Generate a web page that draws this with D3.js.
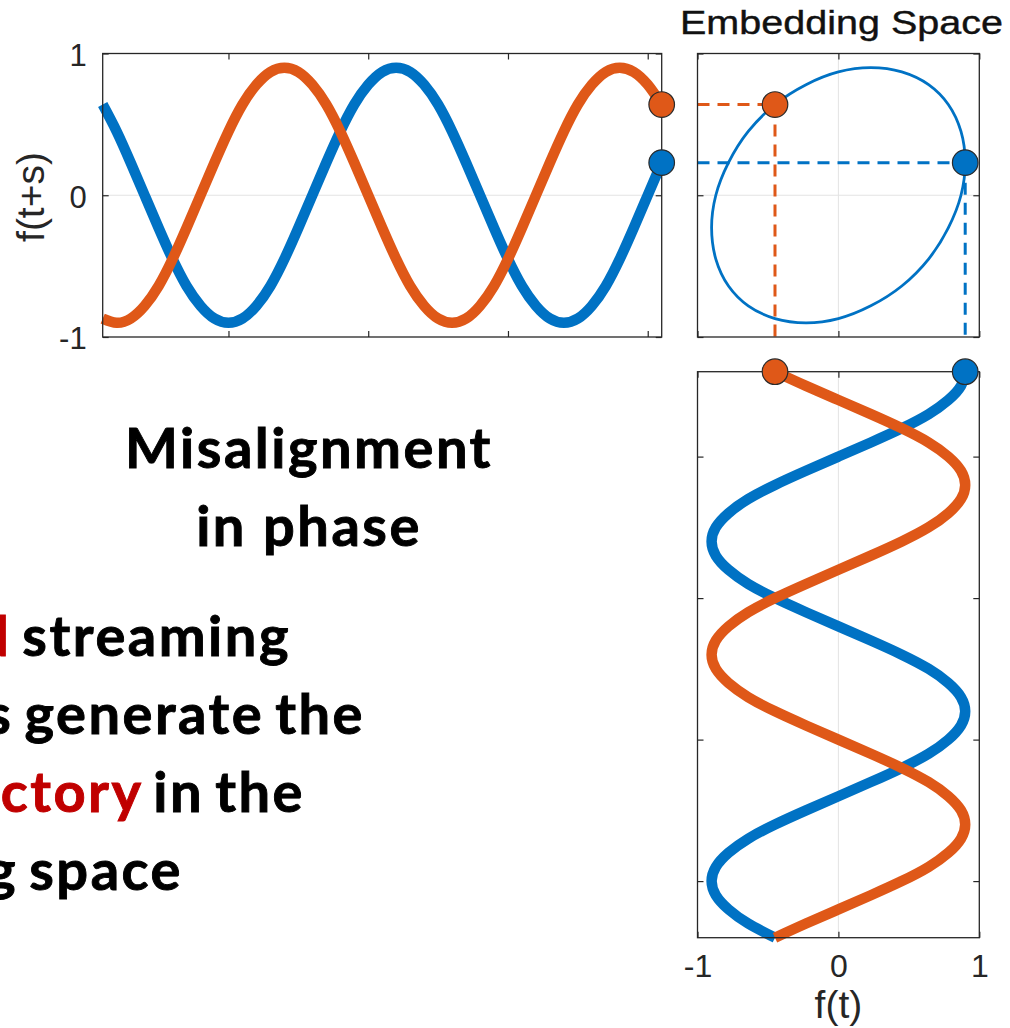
<!DOCTYPE html>
<html>
<head>
<meta charset="utf-8">
<script src="https://cdn.jsdelivr.net/npm/d3@7"></script>
<style>
  html, body { margin: 0; padding: 0; background: #fff; overflow: hidden; }
  svg { display: block; }
</style>
</head>
<body>
<svg id="fig" width="1010" height="1028"></svg>
<script>
// ---- data -------------------------------------------------------------
// Sampling instants shared by both streams
const timeSteps = [10, 20, 30, 40, 50, 60, 70, 80, 90, 100,
                   110, 120, 130, 140, 150, 160, 170, 180, 190, 200,
                   210, 220, 230, 240, 250, 260, 270, 280, 290, 300,
                   310, 320, 330, 340, 350, 360, 370, 380, 390, 400,
                   410, 420, 430, 440, 450, 460];

// Stream A (blue)
const blueSignal = [0.64, 0.45, 0.23, 0.00, -0.23, -0.45, -0.64, -0.78, -0.87, -0.90,
                    -0.87, -0.78, -0.64, -0.45, -0.23, 0.00, 0.23, 0.45, 0.64, 0.78,
                    0.87, 0.90, 0.87, 0.78, 0.64, 0.45, 0.23, 0.00, -0.23, -0.45,
                    -0.64, -0.78, -0.87, -0.90, -0.87, -0.78, -0.64, -0.45, -0.23, 0.00,
                    0.23, 0.45, 0.64, 0.78, 0.87, 0.90];

// Stream B (orange), same waveform with a phase offset
const orangeSignal = [-0.87, -0.90, -0.87, -0.78, -0.64, -0.45, -0.23, 0.00, 0.23, 0.45,
                      0.64, 0.78, 0.87, 0.90, 0.87, 0.78, 0.64, 0.45, 0.23, 0.00,
                      -0.23, -0.45, -0.64, -0.78, -0.87, -0.90, -0.87, -0.78, -0.64, -0.45,
                      -0.23, 0.00, 0.23, 0.45, 0.64, 0.78, 0.87, 0.90, 0.87, 0.78,
                      0.64, 0.45, 0.23, 0.00, -0.23, -0.45];

const delayS = 50;                 // embedding delay s
const topWindow = [10, 410];       // time span shown in the f(t+s) panel
const sideWindow = [60, 460];      // time span shown in the f(t) panel
const samplesPerCycle = 24;        // samples in one period of the trajectory
const timeTicks = [100, 200, 300, 400];
const valueTicks = [-1, 0, 1];

const titleText = "Embedding Space";
const yLabelText = "f(t+s)";
const xLabelText = "f(t)";
const headLines = ["Misalignment", "in phase"];
const bodyLines = [
  [["Phase-shifted", true], [" streaming", false]],
  [["signals generate the", false]],
  [["same trajectory", true], [" in the", false]],
  [["embedding space", false]]
];

// ---- styling ----------------------------------------------------------
const BLUE = "#0072C4";
const ORANGE = "#DF5818";
const AXIS = "#262626";
const GRID = "#e3e3e3";
const RED = "#C00000";
const SANS = "'Liberation Sans', Arial, Helvetica, sans-serif";
const BODY = "Lato, 'Open Sans', sans-serif";

const series = [
  { values: blueSignal, color: BLUE },
  { values: orangeSignal, color: ORANGE }
];

const svg = d3.select("#fig");

// ---- scales -----------------------------------------------------------
const xTime = d3.scaleLinear().domain(topWindow).range([102.7, 661.7]);
const yVal = d3.scaleLinear().domain([-1, 1]).range([337, 53.5]);
const xVal = d3.scaleLinear().domain([-1, 1]).range([697.5, 979.3]);
const yTime = d3.scaleLinear().domain(sideWindow).range([937.7, 371.7]);

const step = timeSteps[1] - timeSteps[0];
const lagIdx = Math.round(delayS / step);
const inWin = (w) => timeSteps.map((t, i) => i).filter(i => timeSteps[i] >= w[0] && timeSteps[i] <= w[1]);
const topIdx = inWin(topWindow);
const sideIdx = inWin(sideWindow);

// ---- helpers ----------------------------------------------------------
function styleAxis(g, labelled, size) {
  g.select(".domain").remove();
  g.selectAll(".tick line").attr("stroke", AXIS).attr("stroke-width", 1.2);
  if (labelled) {
    g.selectAll(".tick text").attr("fill", AXIS)
      .attr("font-family", SANS).attr("font-size", size);
  } else {
    g.selectAll(".tick text").remove();
  }
}

function box(x0, x1, y0, y1) {
  svg.append("rect")
    .attr("x", x0).attr("y", y0)
    .attr("width", x1 - x0).attr("height", y1 - y0)
    .attr("fill", "none").attr("stroke", AXIS).attr("stroke-width", 1.3);
}

function dot(cx, cy, color) {
  svg.append("circle")
    .attr("cx", cx).attr("cy", cy).attr("r", 12.8)
    .attr("fill", color).attr("stroke", "#2b2b2b").attr("stroke-width", 1.2);
}

const fmt = d => String(d);

// ---- panel 1: f(t+s) against time ------------------------------------
const p1 = svg.append("g");
p1.append("line")
  .attr("x1", xTime.range()[0]).attr("x2", xTime.range()[1])
  .attr("y1", yVal(0)).attr("y2", yVal(0))
  .attr("stroke", GRID).attr("stroke-width", 1);

p1.append("g").attr("transform", `translate(0,${yVal(-1)})`)
  .call(d3.axisBottom(xTime).tickValues(timeTicks).tickSize(-6))
  .call(g => styleAxis(g, false));
p1.append("g").attr("transform", `translate(0,${yVal(1)})`)
  .call(d3.axisTop(xTime).tickValues(timeTicks).tickSize(-6))
  .call(g => styleAxis(g, false));
p1.append("g").attr("transform", `translate(${xTime.range()[0]},2)`)
  .call(d3.axisLeft(yVal).tickValues(valueTicks).tickSize(-6).tickPadding(16).tickFormat(fmt))
  .call(g => styleAxis(g, true, 31))
  .call(g => g.selectAll(".tick line").attr("transform", "translate(0,-2)"));
p1.append("g").attr("transform", `translate(${xTime.range()[1]},0)`)
  .call(d3.axisRight(yVal).tickValues(valueTicks).tickSize(-6))
  .call(g => styleAxis(g, false));

const lineTop = d3.line()
  .x(i => xTime(timeSteps[i]))
  .curve(d3.curveNatural);

series.forEach(s => {
  p1.append("path")
    .attr("d", lineTop.y(i => yVal(s.values[i]))(topIdx))
    .attr("fill", "none").attr("stroke", s.color)
    .attr("stroke-width", 10.5).attr("stroke-linejoin", "round");
});
box(xTime.range()[0], xTime.range()[1], yVal(1), yVal(-1));

svg.append("text")
  .attr("transform", `translate(44,197) rotate(-90)`)
  .attr("text-anchor", "middle")
  .attr("font-family", SANS).attr("font-size", 39).attr("fill", AXIS)
  .text(yLabelText);

// ---- panel 2: embedding space ----------------------------------------
const p2 = svg.append("g");
p2.append("line")
  .attr("x1", xVal(0)).attr("x2", xVal(0))
  .attr("y1", yVal(1)).attr("y2", yVal(-1))
  .attr("stroke", GRID).attr("stroke-width", 1);
p2.append("line")
  .attr("x1", xVal(-1)).attr("x2", xVal(1))
  .attr("y1", yVal(0)).attr("y2", yVal(0))
  .attr("stroke", GRID).attr("stroke-width", 1);

p2.append("g").attr("transform", `translate(0,${yVal(-1)})`)
  .call(d3.axisBottom(xVal).tickValues(valueTicks).tickSize(-6))
  .call(g => styleAxis(g, false));
p2.append("g").attr("transform", `translate(0,${yVal(1)})`)
  .call(d3.axisTop(xVal).tickValues(valueTicks).tickSize(-6))
  .call(g => styleAxis(g, false));
p2.append("g").attr("transform", `translate(${xVal(-1)},0)`)
  .call(d3.axisLeft(yVal).tickValues(valueTicks).tickSize(-6))
  .call(g => styleAxis(g, false));
p2.append("g").attr("transform", `translate(${xVal(1)},0)`)
  .call(d3.axisRight(yVal).tickValues(valueTicks).tickSize(-6))
  .call(g => styleAxis(g, false));

// delay-embedded pairs (f(t), f(t+s)) of the blue stream, one full cycle
const pairs = topIdx
  .filter(i => i + lagIdx < timeSteps.length)
  .map(i => [blueSignal[i + lagIdx], blueSignal[i]])
  .slice(-samplesPerCycle);

p2.append("path")
  .attr("d", d3.line()
    .x(d => xVal(d[0])).y(d => yVal(d[1]))
    .curve(d3.curveCatmullRomClosed)(pairs))
  .attr("fill", "none").attr("stroke", BLUE).attr("stroke-width", 2.8);

box(xVal(-1), xVal(1), yVal(1), yVal(-1));

const lastTop = topIdx[topIdx.length - 1];
const lastSide = sideIdx[sideIdx.length - 1];

series.forEach(s => {
  const ex = xVal(s.values[lastSide]);
  const ey = yVal(s.values[lastTop]);
  p2.append("line")
    .attr("x1", xVal(-1)).attr("x2", ex).attr("y1", ey).attr("y2", ey)
    .attr("stroke", s.color).attr("stroke-width", 3)
    .attr("stroke-dasharray", "12,8");
  p2.append("line")
    .attr("x1", ex).attr("x2", ex).attr("y1", ey).attr("y2", yVal(-1))
    .attr("stroke", s.color).attr("stroke-width", 3)
    .attr("stroke-dasharray", "12,8");
});

svg.append("text")
  .attr("x", 680).attr("y", 34)
  .attr("font-family", SANS).attr("font-size", 33).attr("fill", "#111")
  .attr("stroke", "#111").attr("stroke-width", 0.4)
  .attr("textLength", 323).attr("lengthAdjust", "spacingAndGlyphs")
  .text(titleText);

// ---- panel 3: f(t) with time running upward ---------------------------
const p3 = svg.append("g");
p3.append("line")
  .attr("x1", xVal(0)).attr("x2", xVal(0))
  .attr("y1", yTime.range()[0]).attr("y2", yTime.range()[1])
  .attr("stroke", GRID).attr("stroke-width", 1);

p3.append("g").attr("transform", `translate(0,${yTime.range()[0]})`)
  .call(d3.axisBottom(xVal).tickValues(valueTicks).tickSize(-6).tickPadding(17).tickFormat(fmt))
  .call(g => styleAxis(g, true, 32));
p3.append("g").attr("transform", `translate(0,${yTime.range()[1]})`)
  .call(d3.axisTop(xVal).tickValues(valueTicks).tickSize(-6))
  .call(g => styleAxis(g, false));
p3.append("g").attr("transform", `translate(${xVal(-1)},0)`)
  .call(d3.axisLeft(yTime).tickValues(timeTicks).tickSize(-6))
  .call(g => styleAxis(g, false));
p3.append("g").attr("transform", `translate(${xVal(1)},0)`)
  .call(d3.axisRight(yTime).tickValues(timeTicks).tickSize(-6))
  .call(g => styleAxis(g, false));

const lineSide = d3.line()
  .y(i => yTime(timeSteps[i]))
  .curve(d3.curveNatural);

series.forEach(s => {
  p3.append("path")
    .attr("d", lineSide.x(i => xVal(s.values[i]))(sideIdx))
    .attr("fill", "none").attr("stroke", s.color)
    .attr("stroke-width", 10.5).attr("stroke-linejoin", "round");
});
box(xVal(-1), xVal(1), yTime.range()[1], yTime.range()[0]);

svg.append("text")
  .attr("x", xVal(0)).attr("y", 1018)
  .attr("text-anchor", "middle")
  .attr("font-family", SANS).attr("font-size", 39).attr("fill", AXIS)
  .text(xLabelText);

// ---- markers for the current sample ----------------------------------
series.forEach(s => {
  dot(xTime(timeSteps[lastTop]), yVal(s.values[lastTop]), s.color);
  dot(xVal(s.values[lastSide]), yVal(s.values[lastTop]), s.color);
  dot(xVal(s.values[lastSide]), yTime(timeSteps[lastSide]), s.color);
});

// ---- caption text -----------------------------------------------------
const head = svg.append("text")
  .attr("font-family", BODY).attr("font-weight", 700)
  .attr("font-size", 56).attr("letter-spacing", 2.5)
  .attr("stroke", "#000").attr("stroke-width", 0.9)
  .attr("text-anchor", "middle").attr("fill", "#000");
headLines.forEach((t, k) => {
  head.append("tspan").attr("x", 309).attr("y", 468 + k * 77.7).text(t);
});

const bodyEnds = [291, 365, 305, 183];
bodyLines.forEach((parts, k) => {
  const t = svg.append("text")
    .attr("x", bodyEnds[k]).attr("y", 656 + k * 78)
    .attr("font-family", BODY).attr("font-weight", 700)
    .attr("font-size", 56).attr("letter-spacing", 2.5)
    .attr("word-spacing", -5)
    .attr("stroke-width", 0.9)
    .attr("text-anchor", "end");
  parts.forEach(([txt, red]) => {
    const c = red ? RED : "#000";
    t.append("tspan").attr("fill", c).attr("stroke", c).text(txt);
  });
});
</script>
</body>
</html>
